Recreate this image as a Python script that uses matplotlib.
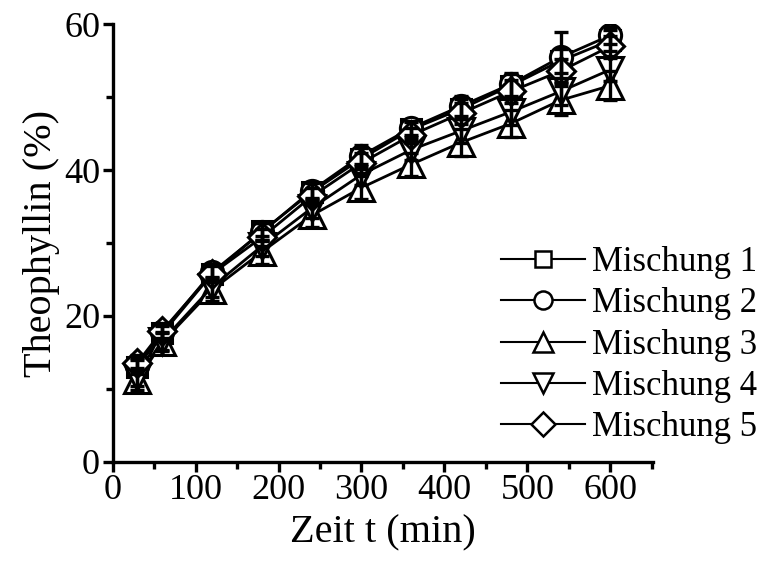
import matplotlib
matplotlib.use("Agg")
import matplotlib.pyplot as plt
from matplotlib.ticker import MultipleLocator

# release data, sampling times in minutes
t = [30, 60, 120, 180, 240, 300, 360, 420, 480, 540, 600]

m1 = [13.0, 17.6, 25.8, 31.6, 37.0, 41.6, 45.6, 48.4, 51.6, 55.0, 57.8]
m2 = [13.2, 17.8, 26.0, 31.5, 37.2, 42.0, 45.8, 48.8, 51.8, 55.5, 58.5]
m3 = [11.2, 16.4, 23.6, 28.8, 33.8, 37.6, 40.8, 43.8, 46.4, 49.6, 51.6]
m4 = [11.6, 16.6, 24.0, 29.6, 34.8, 39.4, 42.8, 45.4, 48.0, 50.8, 53.8]
m5 = [13.6, 18.0, 25.8, 30.8, 36.4, 41.0, 44.8, 47.8, 50.8, 53.6, 57.0]

sd1 = [1.0, 1.0, 1.2, 1.2, 1.2, 1.4, 1.0, 1.4, 1.6, 1.6, 1.4]
sd2 = [1.0, 1.0, 1.2, 1.2, 1.2, 1.4, 1.0, 1.4, 1.6, 3.4, 1.2]
sd3 = [1.4, 1.2, 1.6, 1.6, 1.6, 1.6, 1.6, 1.8, 1.8, 2.0, 2.0]
sd4 = [1.2, 1.2, 1.4, 1.4, 1.4, 1.4, 1.4, 1.6, 1.8, 1.8, 1.6]
sd5 = [1.0, 1.0, 1.0, 1.2, 1.2, 1.4, 1.0, 1.4, 1.6, 1.6, 1.4]

labels = ["Mischung 1", "Mischung 2", "Mischung 3", "Mischung 4", "Mischung 5"]
markers = ["s", "o", "^", "v", "D"]
msizes = [14, 16, 19, 19, 14]

plt.rcParams["font.family"] = ["Liberation Serif", "DejaVu Serif"]

fig = plt.figure(figsize=(7.66, 5.68), dpi=100)
ax = fig.add_axes([0.147, 0.187, 0.705, 0.77])

series = [m1, m2, m3, m4, m5]
errs = [sd1, sd2, sd3, sd4, sd5]
for y, e, mk, ms, lab in zip(series, errs, markers, msizes, labels):
    ax.plot(t, y, color="black", lw=2.0, marker=mk, ms=ms, mfc="white",
            mec="black", mew=2.2, label=lab, zorder=2)
    ax.errorbar(t, y, yerr=e, fmt="none", ecolor="black", elinewidth=2.4,
                capsize=5, capthick=2.4, zorder=3)

ax.set_xlim(0, 651)
ax.set_ylim(0, 60)
ax.xaxis.set_major_locator(MultipleLocator(100))
ax.xaxis.set_minor_locator(MultipleLocator(50))
ax.yaxis.set_major_locator(MultipleLocator(20))
ax.yaxis.set_minor_locator(MultipleLocator(10))

for side in ["top", "right"]:
    ax.spines[side].set_visible(False)
for side in ["left", "bottom"]:
    ax.spines[side].set_linewidth(2.4)

ax.tick_params(which="major", direction="out", length=7, width=2.4, labelsize=26, pad=2)
ax.tick_params(which="minor", direction="out", length=5, width=2.4)

ax.set_xlabel("Zeit t (min)", fontsize=29, labelpad=5)
ax.set_ylabel("Theophyllin (%)", fontsize=29, labelpad=3)

leg = ax.legend(loc="lower right", bbox_to_anchor=(1.225, 0.0), frameon=False,
                fontsize=25, handlelength=2.4, handletextpad=0.2,
                labelspacing=0.24, borderaxespad=0.1)
for h, ms in zip(leg.legend_handles, [12, 13, 15, 15, 12]):
    h.set_linewidth(1.5)
    h.set_markersize(ms)
    h.set_markeredgewidth(1.8)

fig.savefig("out.png", dpi=100)
